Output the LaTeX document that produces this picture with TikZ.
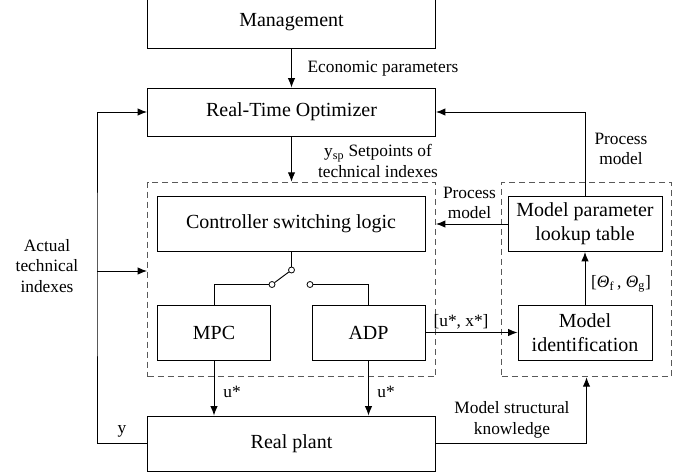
\documentclass[tikz,border=0pt]{standalone}
\usepackage{fontspec}
\setmainfont{Liberation Serif}
\usetikzlibrary{positioning,arrows.meta}

\begin{document}
\begin{tikzpicture}[x=0.75pt,y=-0.75pt,>={Latex[length=7pt,width=5.5pt]},
        blocknode/.style={rectangle, draw, line width=0.7pt, align=center, inner sep=0pt, font=\fontsize{15}{18}\selectfont},
        groupnode/.style={rectangle, draw=black!65, line width=0.7pt, dash pattern=on 4.5pt off 3pt, inner sep=0pt},
        labelnode/.style={align=center, inner sep=1pt, font=\fontsize{13}{15.5}\selectfont},
        contactnode/.style={circle, draw, fill=white, line width=0.6pt, inner sep=0pt, minimum size=4.5pt},
        conn/.style={line width=0.7pt}]
        \useasboundingbox (0,0) rectangle (692,475);

        \node[blocknode, minimum width=216pt, minimum height=39pt] (mgmt) at (291.5,22) {Management};
        \node[blocknode, minimum width=216pt, minimum height=36pt] (rto) at (291.5,112) {Real-Time Optimizer};
        \node[groupnode, minimum width=216pt, minimum height=146pt] (ctrl) at (291.5,279.5) {};
        \node[blocknode, minimum width=201pt, minimum height=41.25pt] (csl) at (291,224) {Controller switching logic};
        \node[blocknode, minimum width=84.75pt, minimum height=41.25pt] (mpc) at (214,332.5) {MPC};
        \node[blocknode, minimum width=84.75pt, minimum height=41.25pt] (adp) at (368.5,332.5) {ADP};
        \node[blocknode, minimum width=216pt, minimum height=41.25pt] (plant) at (291.5,443.5) {Real plant};
        \node[groupnode, minimum width=127pt, minimum height=146pt] (idgrp) at (586.5,279.5) {};
        \node[blocknode, minimum width=115.5pt, minimum height=41.25pt] (lookup) at (585,224) {Model parameter\\lookup table};
        \node[blocknode, minimum width=100.5pt, minimum height=41.25pt] (ident) at (585,332.5) {Model\\identification};

        \node[contactnode] (swa) at (291.5,270) {};
        \node[contactnode] (swb) at (272,284.5) {};
        \node[contactnode] (swc) at (310,284.5) {};
        \coordinate (fb) at (97,271);

        \draw[conn,->] (mgmt) -- (rto);
        \draw[conn,->] (rto) -- (ctrl);
        \draw[conn] (csl.south -| swa) -- (swa);
        \draw[conn] (swa) -- (swb);
        \draw[conn] (swb) -| (mpc.north);
        \draw[conn] (swc) -| (adp.north);
        \draw[conn,->] (mpc.south) -- (mpc.south |- plant.north);
        \draw[conn,->] (adp.south) -- (adp.south |- plant.north);
        \draw[conn,->] (adp) -- (ident);
        \draw[conn,->] (ident) -- (lookup);
        \draw[conn,->] (lookup) -- (lookup -| ctrl.east);
        \draw[conn,->] (lookup.north) |- (rto.east);
        \draw[conn,->] (plant.east) -| (idgrp.south);
        \draw[conn,->] (plant.west) -| (fb) |- (rto.west);
        \draw[conn,->] (fb) -- (fb -| ctrl.west);

        \node[labelnode, anchor=west] (econ) at (306,69) {Economic parameters};
        \node[labelnode] (setp) at (378,161) {y\textsubscript{sp} Setpoints of\\technical indexes};
        \node[labelnode] (pmtop) at (621,149) {Process\\model};
        \node[labelnode] (pmmid) at (469.5,203) {Process\\model};
        \node[labelnode] (ux) at (461,322) {[u*, x*]};
        \node[labelnode] (theta) at (621,284) {[\textit{Θ}\textsubscript{f}\,, \textit{Θ}\textsubscript{g}]};
        \node[labelnode] (umpc) at (232,392) {u*};
        \node[labelnode] (uadp) at (386,392) {u*};
        \node[labelnode] (yout) at (122,431) {y};
        \node[labelnode] (msk) at (512,420) {Model structural\\knowledge};
        \node[labelnode] (act) at (47,266) {Actual\\technical\\indexes};

\end{tikzpicture}
\end{document}
